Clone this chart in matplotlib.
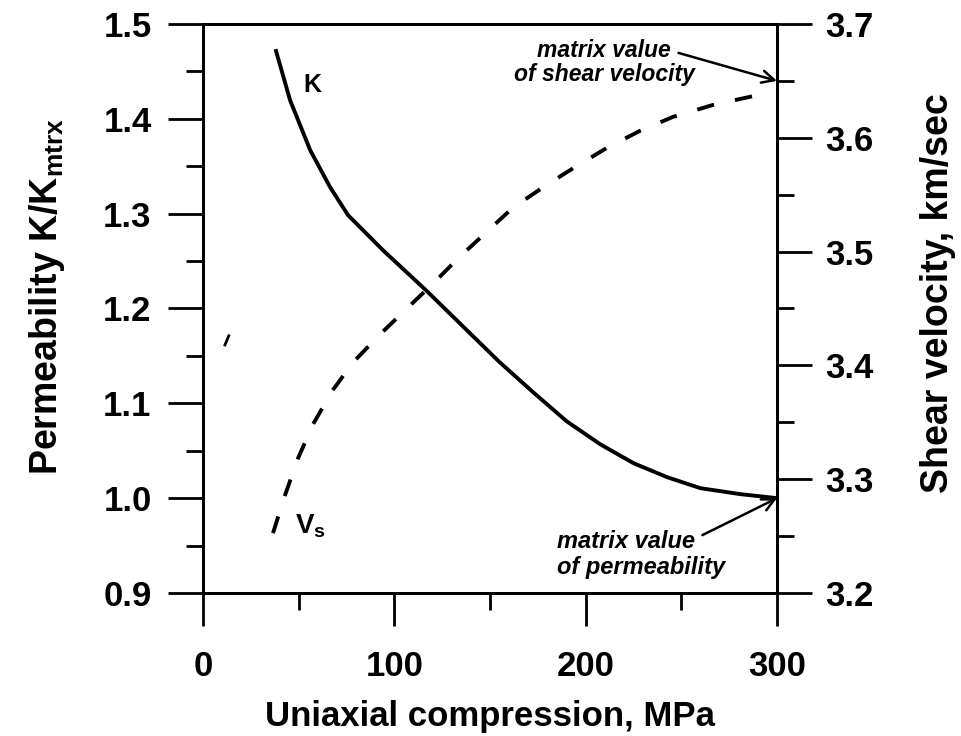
import numpy as np
import matplotlib.pyplot as plt

plt.rcParams["font.family"] = "Liberation Sans"
plt.rcParams["font.weight"] = "bold"
plt.rcParams["mathtext.fontset"] = "custom"
plt.rcParams["mathtext.rm"] = "Liberation Sans:bold"
plt.rcParams["mathtext.bf"] = "Liberation Sans:bold"
plt.rcParams["mathtext.it"] = "Liberation Sans:bold:italic"

# permeability K/Kmtrx (left axis)
k_press = [38.2, 45.5, 56, 66.4, 75.8, 94, 117, 140, 155, 172.5, 190,
           207.5, 225, 242.5, 260, 281, 300]
k_perm = [1.4715, 1.4198, 1.3671, 1.3281, 1.2985, 1.2616, 1.2184, 1.1730,
          1.1435, 1.1118, 1.0812, 1.0570, 1.0369, 1.0222, 1.0105, 1.0042,
          1.0000]

# shear velocity, km/sec (right axis)
vs_press = [36.6, 42.9, 49.7, 57.5, 67.4, 78.4, 92.5, 106.6, 120.2, 134.3,
            149.0, 162.0, 179.8, 195.5, 211.2, 228.4, 245.7, 266.6, 285.9,
            290]
vs_vel = [3.2526, 3.2860, 3.3184, 3.3482, 3.3772, 3.4026, 3.4272, 3.4500,
          3.4719, 3.4956, 3.5184, 3.5386, 3.5588, 3.5754, 3.5912, 3.6061,
          3.6184, 3.6289, 3.6360, 3.6375]

# stray dash on the left
stray_press = [11.5, 13.5]
stray_vel = [3.418, 3.426]

fig = plt.figure(figsize=(9.61, 7.36), dpi=100)
ax = fig.add_axes([0.2112, 0.1943, 0.5973, 0.7731])
ax2 = ax.twinx()

ax.plot(k_press, k_perm, color="black", lw=2.8, solid_joinstyle="round")
ax2.plot(vs_press, vs_vel, color="black", lw=2.8, dashes=(4.5, 5.5))
ax2.plot(stray_press, stray_vel, color="black", lw=2.0)

ax.set_xlim(0, 300)
ax.set_ylim(0.9, 1.5)
ax2.set_ylim(3.2, 3.7)

ax.set_xticks([0, 100, 200, 300])
ax.set_xticks([50, 150, 250], minor=True)
ax.set_yticks(np.round(np.arange(0.9, 1.51, 0.1), 1))
ax.set_yticks(np.round(np.arange(0.95, 1.5, 0.1), 2), minor=True)
ax2.set_yticks(np.round(np.arange(3.2, 3.71, 0.1), 1))
ax2.set_yticks(np.round(np.arange(3.25, 3.7, 0.1), 2), minor=True)
ax.yaxis.set_major_formatter(plt.FormatStrFormatter("%.1f"))
ax2.yaxis.set_major_formatter(plt.FormatStrFormatter("%.1f"))

for a in (ax, ax2):
    for s in a.spines.values():
        s.set_linewidth(2)
    a.tick_params(which="major", direction="out", length=25, width=2,
                  labelsize=25)
    a.tick_params(which="minor", direction="out", length=12, width=2)
ax.tick_params(axis="y", which="major", pad=12)
ax2.tick_params(axis="y", which="major", pad=10)
ax.tick_params(axis="x", which="major", length=24, pad=17)

ax.set_xlabel("Uniaxial compression, MPa", fontsize=25, fontweight="bold",
              labelpad=12)
ax.set_ylabel(r"Permeability K/K$_{\mathrm{mtrx}}$", fontsize=27,
              fontweight="bold")
ax2.set_ylabel("Shear velocity, km/sec", fontsize=27, fontweight="bold")
ax.yaxis.set_label_coords(-0.237, 0.522)
ax2.yaxis.set_label_coords(1.25, 0.527)

ax.text(57, 1.436, "K", fontsize=18, ha="center", va="center")
ax.text(56, 0.970, r"V$_{\mathrm{s}}$", fontsize=20, ha="center", va="center")

ax2.text(209.6, 3.6763, "matrix value", fontsize=16.5, style="italic",
         ha="center", va="center")
ax2.text(209.6, 3.6553, "of shear velocity", fontsize=16.5, style="italic",
         ha="center", va="center")
ax2.annotate("", xy=(300, 3.65), xytext=(248.5, 3.6746),
             arrowprops=dict(arrowstyle="->", lw=1.8, mutation_scale=22,
                             shrinkA=0, shrinkB=0))

ax.text(185, 0.9546, "matrix value", fontsize=17, style="italic",
        ha="left", va="center")
ax.text(185, 0.9272, "of permeability", fontsize=17, style="italic",
        ha="left", va="center")
ax.annotate("", xy=(300, 1.0), xytext=(261, 0.961),
            arrowprops=dict(arrowstyle="->", lw=1.8, mutation_scale=22,
                            shrinkA=0, shrinkB=0))

fig.savefig("out.png", dpi=100)
